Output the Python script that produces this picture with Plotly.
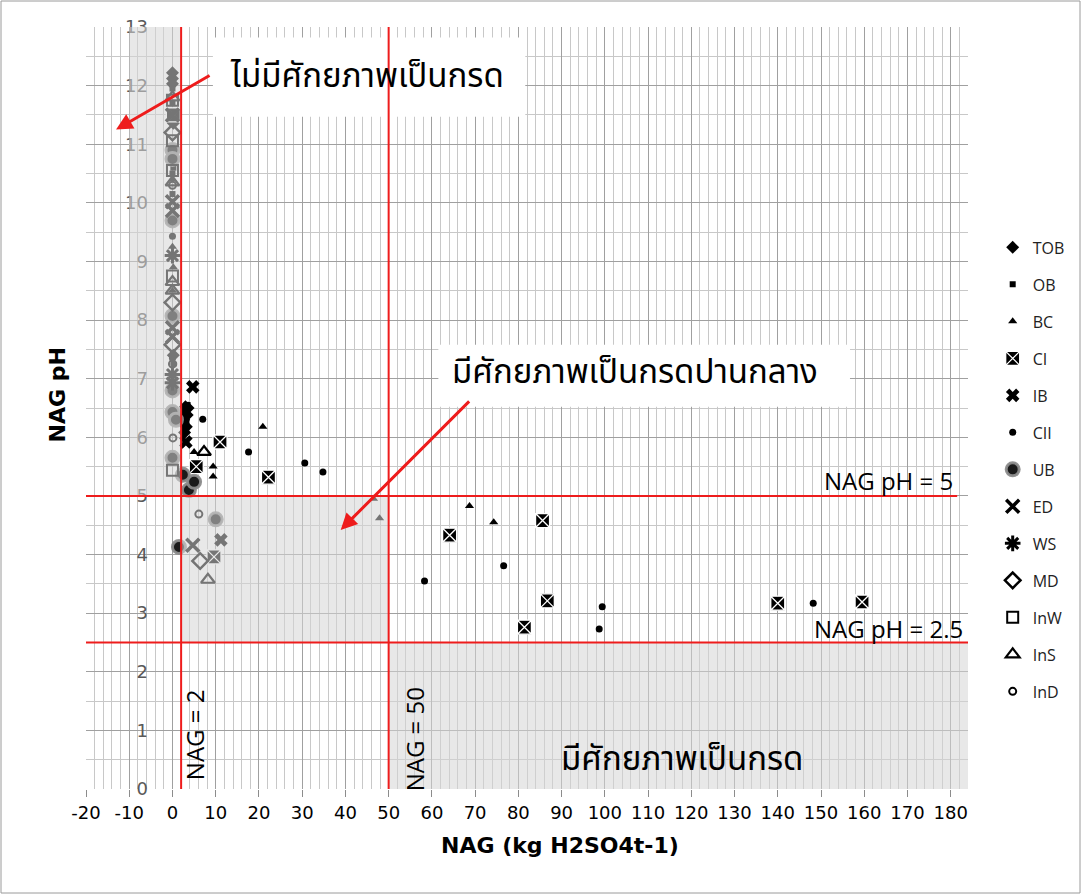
import plotly.graph_objects as go

# ---- data: NAG (kg H2SO4/t) and NAG pH for each rock group ----
TOB_x = [3.0, 3.6, 2.6, 3.2, 2.8, 3.4, 0.0, 0.0, 0.0, 0.2, 0.0, 0.2]
TOB_y = [6.52, 6.50, 6.30, 6.18, 6.08, 6.38, 12.22, 12.12, 12.03, 11.36, 9.72, 7.40]
OB_x = [3.5, 2.8, 3.2, 0.0, 0.0, 0.0, 0.2, 0.0, 0.0]
OB_y = [6.55, 6.45, 6.25, 11.95, 11.70, 10.70, 10.60, 10.50, 10.15]
BC_x = [5.0, 9.4, 9.4, 20.9, 68.7, 74.3, 46.5, 47.9, 0.0, 0.0, 0.2, 0.0]
BC_y = [5.75, 5.50, 5.33, 6.18, 4.83, 4.55, 4.95, 4.62, 10.40, 9.25, 8.90, 8.50]
CI_x = [11.0, 22.2, 64.1, 85.6, 86.7, 81.4, 140.0, 159.5, 5.5, 9.6, 0.2]
CI_y = [5.92, 5.32, 4.33, 4.58, 3.21, 2.76, 3.17, 3.19, 5.50, 3.96, 11.50]
IB_x = [4.7, 3.1, 11.2]
IB_y = [6.86, 5.92, 4.25]
CII_x = [7.0, 17.6, 30.6, 34.8, 58.3, 76.6, 99.4, 98.7, 148.2, 2.6, 0.0, 0.0, 0.3]
CII_y = [6.31, 5.75, 5.56, 5.41, 3.55, 3.81, 3.11, 2.73, 3.17, 5.35, 9.43, 7.35, 7.25]
UB_x = [3.8, 5.0, 2.4, 0.0, 0.0, 0.8, 0.0, 1.5, 10.0, 0.0, 0.0, 0.0, 0.0]
UB_y = [5.10, 5.24, 5.36, 6.80, 6.43, 6.30, 5.65, 4.13, 4.60, 8.07, 10.90, 10.75, 9.70]
ED_x = [4.7, 0.0, 0.0, 0.0, 0.0, 0.0]
ED_y = [4.16, 11.50, 7.87, 7.72, 9.87, 10.02]
WS_x = [0.0, 0.0, 0.0]
WS_y = [7.07, 6.93, 9.10]
MD_x = [6.4, 0.0, 0.0, 0.0]
MD_y = [3.89, 8.30, 11.20, 7.58]
InW_x = [0.0, 0.0, 0.0, 0.0, 0.0]
InW_y = [5.44, 10.55, 11.06, 8.75, 11.75]
InS_x = [7.3, 8.2, 0.0, 0.0, 0.0, 0.0]
InS_y = [5.75, 3.57, 11.80, 8.65, 8.50, 10.35]
InD_x = [6.1, 0.1, 0.0, 0.0]
InD_y = [4.69, 5.99, 10.30, 7.25]

series = [
    ("TOB", TOB_x, TOB_y, dict(symbol="diamond", size=10, color="black")),
    ("OB", OB_x, OB_y, dict(symbol="square", size=6, color="black")),
    ("BC", BC_x, BC_y, dict(symbol="triangle-up", size=8, color="black")),
    ("CI", CI_x, CI_y, dict(symbol="square-x", size=14, color="black",
                            line=dict(color="white", width=1.3))),
    ("IB", IB_x, IB_y, dict(symbol="x", size=12, color="black")),
    ("CII", CII_x, CII_y, dict(symbol="circle", size=7, color="black")),
    ("UB", UB_x, UB_y, dict(symbol="circle", size=13, color="#1a1a1a",
                            line=dict(color="rgba(140,140,140,0.95)", width=3))),
    ("ED", ED_x, ED_y, dict(symbol="x-thin-open", size=13, color="black",
                            line=dict(color="black", width=3.5))),
    ("WS", WS_x, WS_y, dict(symbol="asterisk-open", size=13, color="black",
                            line=dict(color="black", width=3))),
    ("MD", MD_x, MD_y, dict(symbol="diamond-open", size=12, color="black",
                            line=dict(color="black", width=2.5))),
    ("InW", InW_x, InW_y, dict(symbol="square-open", size=11, color="black",
                               line=dict(color="black", width=2))),
    ("InS", InS_x, InS_y, dict(symbol="triangle-up-open", size=12, color="black",
                               line=dict(color="black", width=2.2))),
    ("InD", InD_x, InD_y, dict(symbol="circle-open", size=7, color="black",
                               line=dict(color="black", width=2))),
]

x_ticks = list(range(-20, 181, 10))
y_ticks = list(range(0, 14))

# zone limits
NAG_LOW, NAG_HIGH = 2, 50
PH_HIGH, PH_LOW = 5, 2.5

fig = go.Figure()
for i, (name, xs, ys, mk) in enumerate(series):
    fig.add_trace(go.Scatter(x=xs, y=ys, mode="markers", name=name,
                             marker=mk, legendgroup=f"g{i}", cliponaxis=False))

X0, X1 = -20, 184
fig.update_layout(
    width=1086, height=896,
    margin=dict(l=86, r=118, t=27, b=107),
    paper_bgcolor="white", plot_bgcolor="white",
    font=dict(family="DejaVu Sans, Verdana, sans-serif", color="black"),
    xaxis=dict(range=[X0, X1], tickvals=x_ticks, ticktext=[str(v) for v in x_ticks],
               showgrid=True, gridcolor="#a0a0a0", gridwidth=1,
               minor=dict(dtick=2, tick0=0, showgrid=True, gridcolor="#c8c8c8", gridwidth=1),
               zeroline=False, showline=False, ticks="outside", ticklen=7,
               tickcolor="#8c8c8c", tickfont=dict(size=18, color="black"),
               fixedrange=True),
    yaxis=dict(range=[0, 13], tickvals=y_ticks, showgrid=True, gridcolor="#a0a0a0",
               minor=dict(dtick=0.5, showgrid=True, gridcolor="#c8c8c8"),
               zeroline=False, showline=False, ticks="",
               anchor="free", position=(148 - 86) / 882,
               tickfont=dict(size=18, color="#595959"), fixedrange=True),
    legend=dict(x=1.028, y=0.733, xanchor="left", yanchor="top",
                font=dict(size=16, color="#222222", family="Open Sans, DejaVu Sans"),
                bgcolor="rgba(0,0,0,0)", tracegroupgap=13.2, itemsizing="trace",
                itemwidth=30),
    showlegend=True,
)

# shaded zones (semi-transparent so markers beneath appear grey)
zone_fill = "rgba(214,214,214,0.55)"
for (xa, xb, ya, yb) in [(-10, NAG_LOW, PH_HIGH, 13),
                         (NAG_LOW, NAG_HIGH, PH_LOW, PH_HIGH),
                         (NAG_HIGH, X1, 0, PH_LOW)]:
    fig.add_shape(type="rect", x0=xa, x1=xb, y0=ya, y1=yb, xref="x", yref="y",
                  fillcolor=zone_fill, line=dict(width=0), layer="above")

# white label boxes
fig.add_shape(type="rect", x0=9.35, x1=81.6, y0=11.47, y1=12.82,
              fillcolor="white", line=dict(width=0), layer="above")
fig.add_shape(type="rect", x0=61.5, x1=156.7, y0=6.52, y1=7.58,
              fillcolor="white", line=dict(width=0), layer="above")

# threshold lines
red = "#ee1c1c"
for xv in (NAG_LOW, NAG_HIGH):
    fig.add_shape(type="line", x0=xv, x1=xv, y0=-0.14, y1=13.32, xref="x", yref="y",
                  line=dict(color=red, width=2), layer="above")
fig.add_shape(type="line", x0=-25.7, x1=181.5, y0=PH_HIGH, y1=PH_HIGH,
              line=dict(color=red, width=2), layer="above")
fig.add_shape(type="line", x0=-25.7, x1=184, y0=PH_LOW, y1=PH_LOW,
              line=dict(color=red, width=2), layer="above")

# outer frame
fig.add_shape(type="rect", xref="paper", yref="paper",
              x0=(1 - 86) / 882, x1=(1080 - 86) / 882,
              y0=(789 - 893) / 762, y1=(789 - 1) / 762,
              line=dict(color="#9a9a9a", width=1), fillcolor="rgba(0,0,0,0)")

thai = "Tahoma, 'Noto Sans Thai', Loma, Garuda, 'TlwgTypo', DejaVu Sans, sans-serif"
lab = "Open Sans, DejaVu Sans"
ann = [
    dict(x=45.0, y=12.15, text="ไม่มีศักยภาพเป็นกรด", font=dict(size=33, family=thai)),
    dict(x=107.0, y=7.1, text="มีศักยภาพเป็นกรดปานกลาง", font=dict(size=33, family=thai)),
    dict(x=117.9, y=0.5, text="มีศักยภาพเป็นกรด", font=dict(size=33, family=thai)),
    dict(x=165.5, y=5.26, text="NAG pH = 5", font=dict(size=24, family=lab)),
    dict(x=165.5, y=2.74, text="NAG pH = 2.5", font=dict(size=24, family=lab)),
    dict(x=5.0, y=0.92, text="NAG = 2", textangle=-90, font=dict(size=24, family=lab)),
    dict(x=56.0, y=0.84, text="NAG = 50", textangle=-90, font=dict(size=24, family=lab)),
]
for a in ann:
    fig.add_annotation(showarrow=False, xref="x", yref="y", **a)

# arrows pointing into the zones
fig.add_annotation(x=-13.05, y=11.25, ax=95, ay=-55, text="", showarrow=True,
                   arrowhead=2, arrowsize=1.1, arrowwidth=3, arrowcolor=red)
fig.add_annotation(x=38.9, y=4.42, ax=130, ay=-130, text="", showarrow=True,
                   arrowhead=2, arrowsize=1.1, arrowwidth=3, arrowcolor=red)

# axis titles
fig.add_annotation(xref="paper", yref="paper", x=(560 - 86) / 882, y=(789 - 860) / 762,
                   text="<b>NAG (kg H2SO4t-1)</b>", showarrow=False,
                   font=dict(size=22, family="DejaVu Sans, Verdana"))
fig.add_annotation(xref="paper", yref="paper", x=(42 - 86) / 882, y=(789 - 395) / 762,
                   text="<b>NAG pH</b>", showarrow=False, textangle=-90,
                   font=dict(size=22, family="DejaVu Sans, Verdana"))

fig.write_html("out.html")
